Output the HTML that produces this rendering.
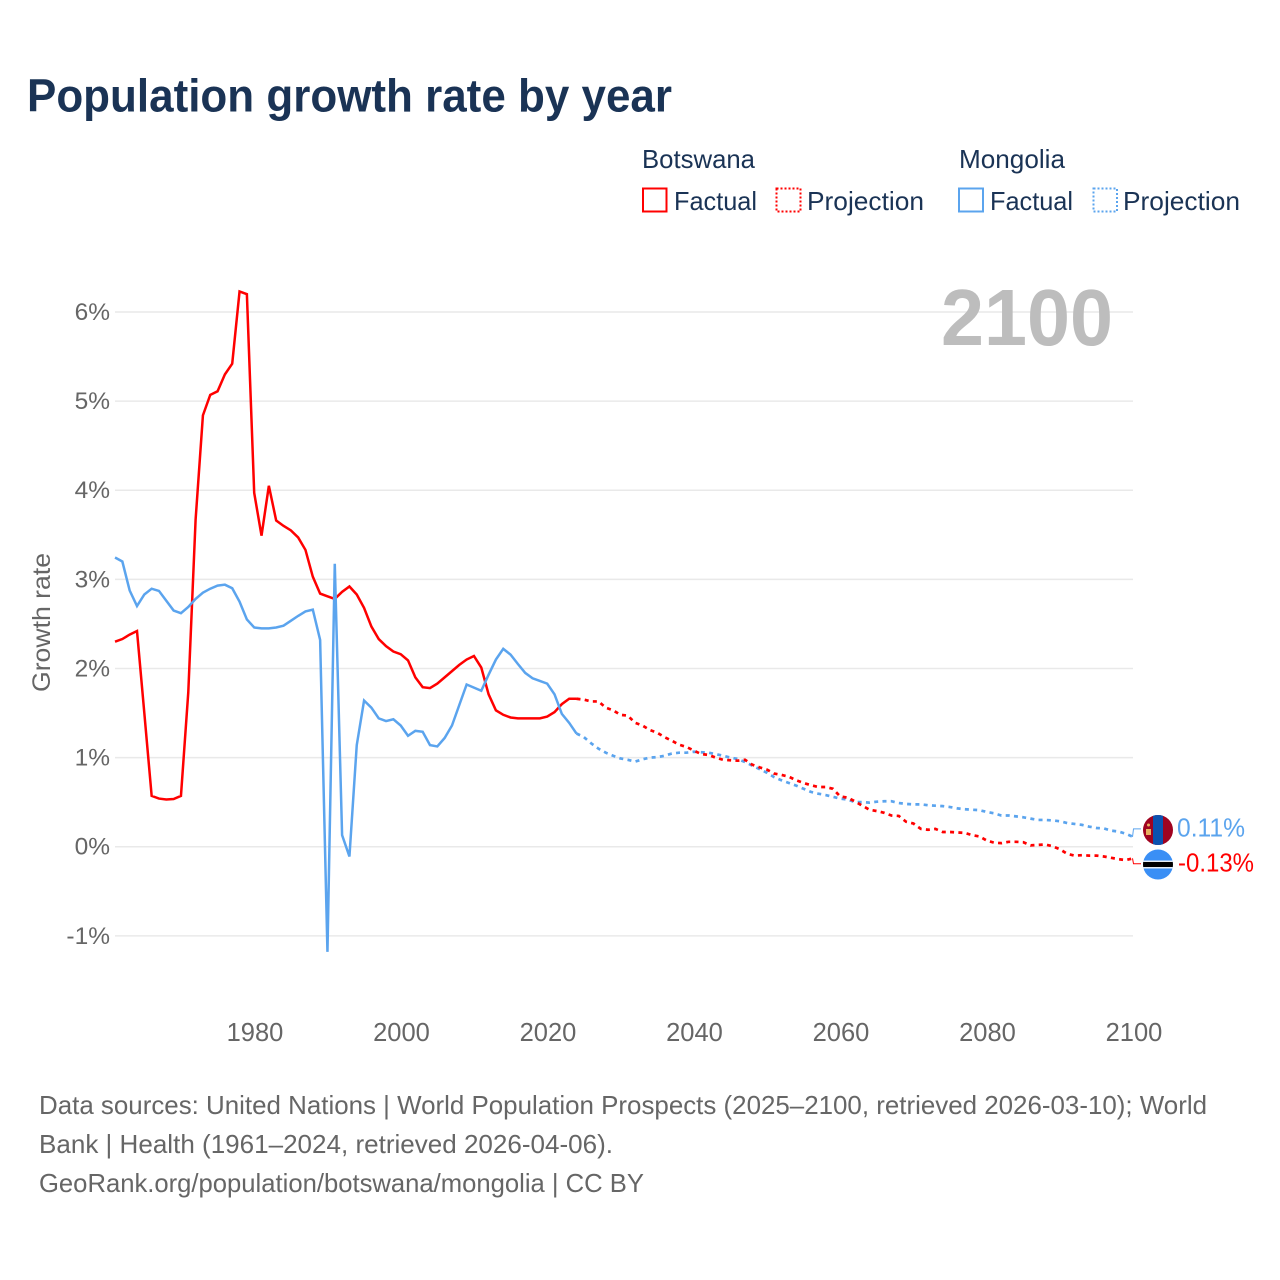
<!DOCTYPE html>
<html lang="en">
<head>
<meta charset="utf-8">
<title>Population growth rate by year</title>
<style>
html,body{margin:0;padding:0;background:#fff;}
svg{display:block;font-family:"Liberation Sans",sans-serif;}
</style>
</head>
<body>
<svg id="chart" xmlns="http://www.w3.org/2000/svg" width="1280" height="1280" viewBox="0 0 1280 1280">
  <rect width="1280" height="1280" fill="#fff"/>
  <text x="27" y="111.500" font-size="46" font-weight="700" fill="#1a3355" textLength="645" lengthAdjust="spacingAndGlyphs">Population growth rate by year</text>

  <g font-size="26" fill="#1a3355">
    <text x="642" y="168" textLength="113" lengthAdjust="spacingAndGlyphs">Botswana</text>
    <rect x="643" y="188.500" width="23.500" height="23" fill="none" stroke="#ff0000" stroke-width="2"/>
    <text x="674" y="210" textLength="83" lengthAdjust="spacingAndGlyphs">Factual</text>
    <rect x="776.500" y="188.500" width="24" height="23" fill="none" stroke="#ff0000" stroke-width="2" stroke-dasharray="2 2"/>
    <text x="807" y="210" textLength="117" lengthAdjust="spacingAndGlyphs">Projection</text>
    <text x="959" y="168" textLength="106" lengthAdjust="spacingAndGlyphs">Mongolia</text>
    <rect x="959" y="188.500" width="24" height="23" fill="none" stroke="#5ba4ee" stroke-width="2"/>
    <text x="990" y="210" textLength="83" lengthAdjust="spacingAndGlyphs">Factual</text>
    <rect x="1093.500" y="188.500" width="23.500" height="23" fill="none" stroke="#5ba4ee" stroke-width="2" stroke-dasharray="2 2"/>
    <text x="1123" y="210" textLength="117" lengthAdjust="spacingAndGlyphs">Projection</text>
  </g>

  <g id="grid"></g>
  <g id="yTicks"></g>
  <g id="xTicks"></g>
  <text transform="translate(50,622.500) rotate(-90)" text-anchor="middle" font-size="25" fill="#666" textLength="139" lengthAdjust="spacingAndGlyphs">Growth rate</text>
  <text x="941" y="345" font-size="80" font-weight="700" fill="#bdbdbd" textLength="172" lengthAdjust="spacingAndGlyphs">2100</text>
  <g id="series"></g>

  <defs>
    <clipPath id="flagClipMn"><circle cx="1158" cy="830" r="15"/></clipPath>
    <clipPath id="flagClipBw"><circle cx="1158" cy="864.500" r="15"/></clipPath>
  </defs>
  <g clip-path="url(#flagClipMn)">
    <rect x="1143" y="815" width="30" height="30" fill="#a00320"/>
    <rect x="1153" y="815" width="10" height="30" fill="#0b52b0"/>
    <rect x="1146" y="829" width="5" height="6" fill="#e8b060"/>
    <circle cx="1148.500" cy="825" r="1.500" fill="#e8b060"/>
  </g>
  <g clip-path="url(#flagClipBw)">
    <rect x="1143" y="849" width="30" height="31" fill="#3a8ff5"/>
    <rect x="1143" y="860.500" width="30" height="8" fill="#e8eef5"/>
    <rect x="1143" y="862" width="30" height="5" fill="#000"/>
  </g>
  <g id="endLabels"></g>

  <g font-size="26" fill="#666">
    <text x="39" y="1114" textLength="1168" lengthAdjust="spacingAndGlyphs">Data sources: United Nations | World Population Prospects (2025–2100, retrieved 2026-03-10); World</text>
    <text x="39" y="1153" textLength="574" lengthAdjust="spacingAndGlyphs">Bank | Health (1961–2024, retrieved 2026-04-06).</text>
    <text x="39" y="1192" textLength="605" lengthAdjust="spacingAndGlyphs">GeoRank.org/population/botswana/mongolia | CC BY</text>
  </g>
</svg>
<script>
const yTickValues = [-1, 0, 1, 2, 3, 4, 5, 6];
const yTickLabels = ['-1%', '0%', '1%', '2%', '3%', '4%', '5%', '6%'];
const xTickValues = [1980, 2000, 2020, 2040, 2060, 2080, 2100];
const xTickLabels = ['1980', '2000', '2020', '2040', '2060', '2080', '2100'];
const factualYears = [1961,1962,1963,1964,1965,1966,1967,1968,1969,1970,1971,1972,1973,1974,1975,1976,1977,1978,1979,1980,1981,1982,1983,1984,1985,1986,1987,1988,1989,1990,1991,1992,1993,1994,1995,1996,1997,1998,1999,2000,2001,2002,2003,2004,2005,2006,2007,2008,2009,2010,2011,2012,2013,2014,2015,2016,2017,2018,2019,2020,2021,2022,2023,2024];
const projectionYears = [2024,2025,2026,2027,2028,2029,2030,2031,2032,2033,2034,2035,2036,2037,2038,2039,2040,2041,2042,2043,2044,2045,2046,2047,2048,2049,2050,2051,2052,2053,2054,2055,2056,2057,2058,2059,2060,2061,2062,2063,2064,2065,2066,2067,2068,2069,2070,2071,2072,2073,2074,2075,2076,2077,2078,2079,2080,2081,2082,2083,2084,2085,2086,2087,2088,2089,2090,2091,2092,2093,2094,2095,2096,2097,2098,2099,2100];
const botswanaFactual = [2.30,2.33,2.38,2.42,1.50,0.57,0.54,0.53,0.535,0.57,1.73,3.67,4.84,5.07,5.11,5.30,5.42,6.23,6.20,3.97,3.49,4.05,3.66,3.60,3.55,3.47,3.33,3.03,2.84,2.81,2.78,2.86,2.92,2.83,2.68,2.47,2.33,2.25,2.19,2.16,2.09,1.90,1.79,1.78,1.83,1.90,1.97,2.04,2.10,2.14,2.01,1.71,1.53,1.48,1.45,1.44,1.44,1.44,1.44,1.46,1.51,1.60,1.66,1.66];
const botswanaProjection = [1.66,1.65,1.63,1.63,1.56,1.53,1.48,1.47,1.39,1.36,1.31,1.28,1.23,1.19,1.145,1.12,1.08,1.04,1.03,1.00,0.975,0.97,0.965,0.975,0.92,0.89,0.865,0.82,0.805,0.785,0.745,0.715,0.69,0.67,0.67,0.65,0.565,0.55,0.51,0.46,0.415,0.40,0.38,0.35,0.345,0.28,0.26,0.20,0.19,0.20,0.165,0.165,0.16,0.155,0.13,0.115,0.07,0.045,0.04,0.055,0.055,0.05,0.015,0.02,0.025,0.005,-0.03,-0.08,-0.10,-0.095,-0.10,-0.10,-0.11,-0.125,-0.14,-0.15,-0.13];
const mongoliaFactual = [3.245,3.20,2.875,2.70,2.83,2.895,2.87,2.76,2.65,2.62,2.69,2.78,2.85,2.895,2.93,2.94,2.90,2.75,2.55,2.46,2.45,2.45,2.46,2.48,2.535,2.59,2.64,2.66,2.32,-1.18,3.175,0.13,-0.11,1.14,1.64,1.56,1.44,1.41,1.43,1.36,1.245,1.30,1.29,1.14,1.125,1.22,1.36,1.59,1.82,1.785,1.75,1.93,2.10,2.22,2.155,2.05,1.95,1.89,1.86,1.83,1.71,1.49,1.39,1.27];
const mongoliaProjection = [1.27,1.23,1.16,1.10,1.055,1.02,0.99,0.975,0.955,0.98,1.00,1.005,1.02,1.045,1.055,1.055,1.065,1.06,1.055,1.04,1.02,1.00,0.985,0.95,0.91,0.87,0.83,0.78,0.745,0.715,0.685,0.65,0.615,0.595,0.58,0.56,0.54,0.53,0.50,0.50,0.495,0.505,0.51,0.51,0.49,0.48,0.475,0.475,0.465,0.46,0.455,0.445,0.43,0.42,0.415,0.41,0.39,0.375,0.35,0.35,0.34,0.33,0.315,0.30,0.30,0.295,0.285,0.265,0.255,0.245,0.225,0.21,0.205,0.18,0.17,0.145,0.11];
const RED = '#ff0000';
const BLUE = '#5ba4ee';
const NS = 'http://www.w3.org/2000/svg';

function xScale(year) { return 254.2 + (year - 1980) * 7.325; }
function yScale(value) { return 846.7 - value * 89.12; }
function make(parent, tag, attrs) {
  const el = document.createElementNS(NS, tag);
  for (const k in attrs) el.setAttribute(k, attrs[k]);
  parent.appendChild(el);
  return el;
}
function linePoints(years, values) {
  return years.map((y, i) => xScale(y).toFixed(2) + ',' + yScale(values[i]).toFixed(2)).join(' ');
}

const grid = document.getElementById('grid');
const yTicks = document.getElementById('yTicks');
yTickValues.forEach((v, i) => {
  const ln = make(grid, 'line', { x1: 115, x2: 1133, y1: yScale(v), y2: yScale(v), stroke: '#e9e9e9', 'stroke-width': 1.5 });
  
  
  const t = make(yTicks, 'text', { x: 110, y: yScale(v) + 8, 'text-anchor': 'end', 'font-size': 24.500, fill: '#666' });
  
  
  t.textContent = yTickLabels[i];
});
const xTicks = document.getElementById('xTicks');
xTickValues.forEach((v, i) => {
  const t = make(xTicks, 'text', { x: xScale(v) + 0.8, y: 1041, 'text-anchor': 'middle', 'font-size': 25.500, fill: '#666' });
  
  
  t.textContent = xTickLabels[i];
});

const series = document.getElementById('series');
function drawSeries(name, years, values, color, dashed) {
  const attrs = { points: linePoints(years, values), fill: 'none', stroke: color, 'stroke-width': dashed ? 2.700 : 2.500, 'stroke-linejoin': 'miter' };
  if (dashed) attrs['stroke-dasharray'] = '4 4.300';
  const p = make(series, 'polyline', attrs);
  
  
}
drawSeries('mongolia-projection-line', projectionYears, mongoliaProjection, BLUE, true);
drawSeries('botswana-projection-line', projectionYears, botswanaProjection, RED, true);
drawSeries('botswana-factual-line', factualYears, botswanaFactual, RED, false);
drawSeries('mongolia-factual-line', factualYears, mongoliaFactual, BLUE, false);

const endLabels = document.getElementById('endLabels');
function drawEnd(name, values, color, dodge, labelX, width) {
  const last = values[values.length - 1];
  const ex = xScale(2100) - 0.700;
  const ey = yScale(last);
  const c = make(endLabels, 'polyline', { points: ex + ',' + ey + ' ' + (ex + 1) + ',' + (ey + dodge) + ' 1141,' + (ey + dodge), fill: 'none', stroke: color, 'stroke-width': 1 });
  
  
  const t = make(endLabels, 'text', { x: labelX, y: ey + dodge + 7.500, 'font-size': 26, fill: color, textLength: width, lengthAdjust: 'spacingAndGlyphs' });
  
  
  t.textContent = last.toFixed(2) + '%';
}
drawEnd('mongolia', mongoliaProjection, BLUE, -8, 1177, 68);
drawEnd('botswana', botswanaProjection, RED, 5.500, 1178, 76);
</script>
</body>
</html>
